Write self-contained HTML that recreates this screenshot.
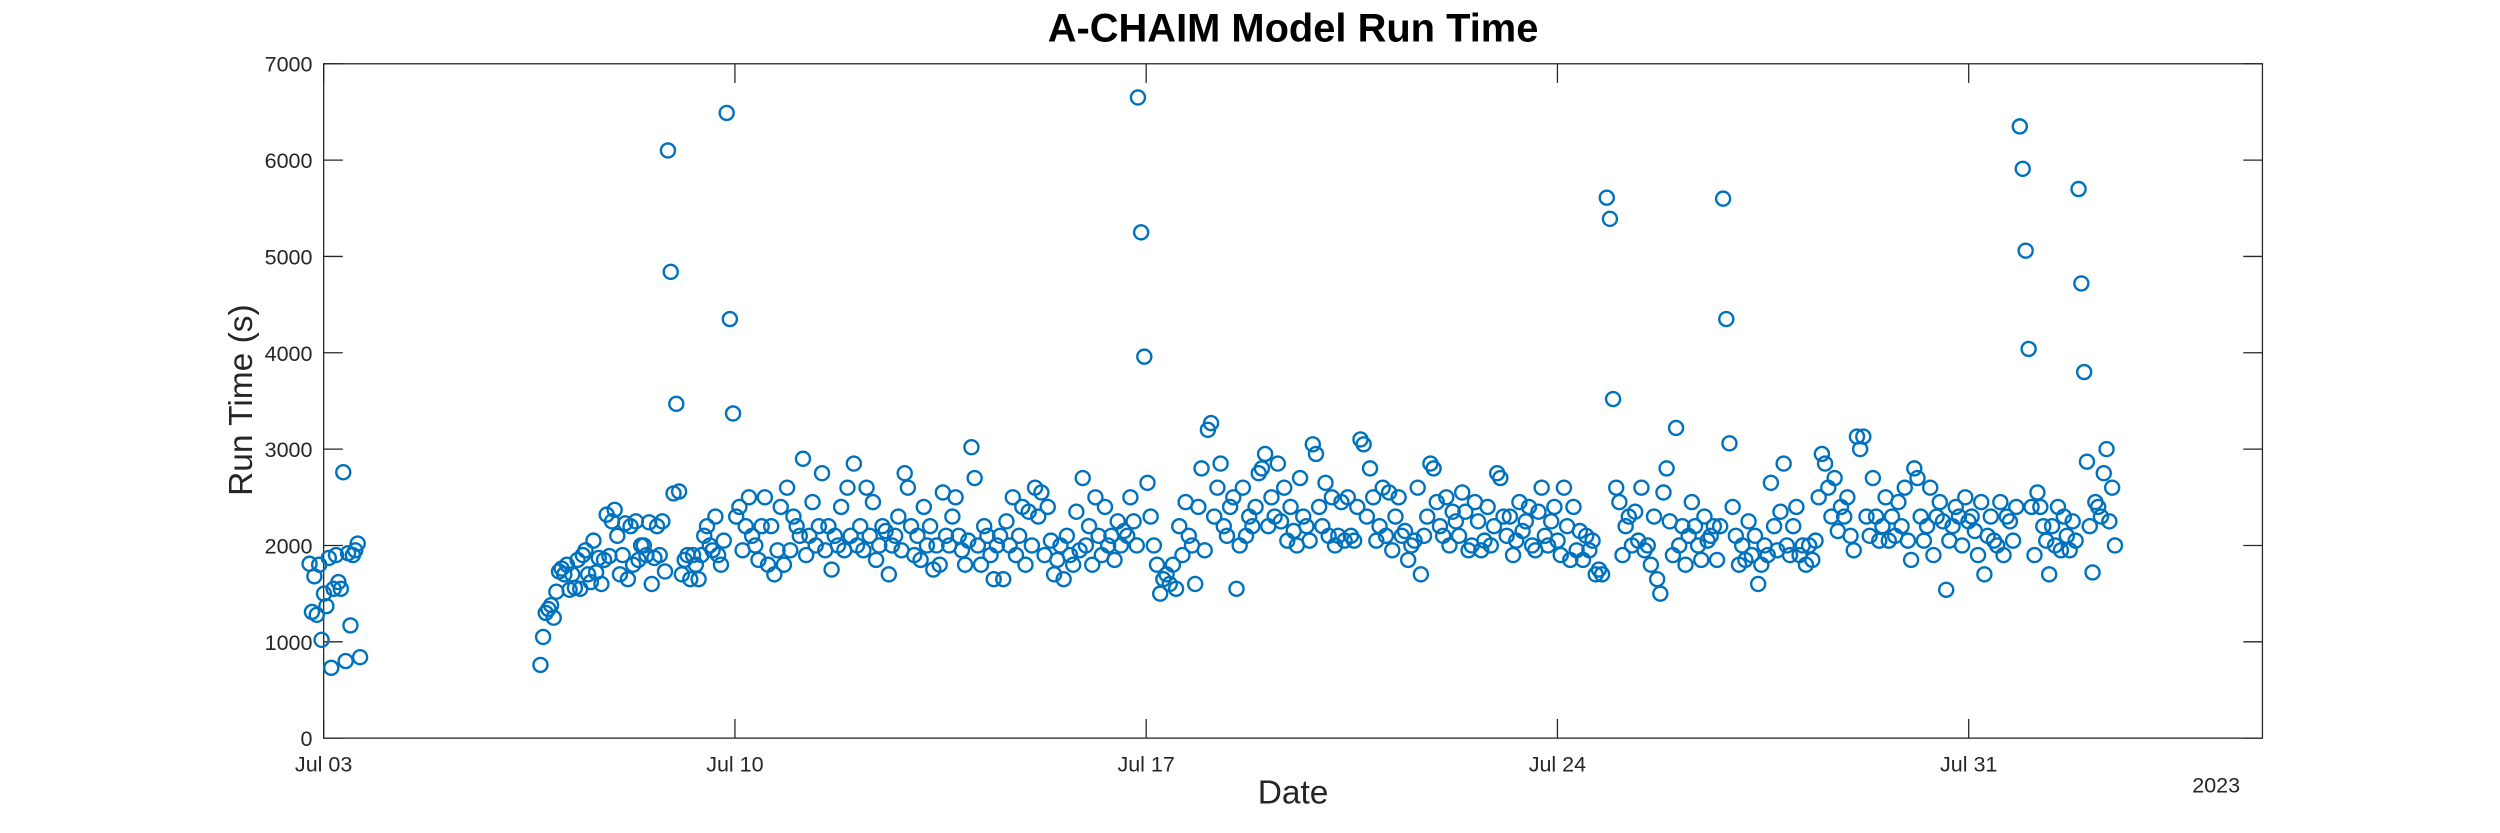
<!DOCTYPE html>
<html><head><meta charset="utf-8">
<style>
html,body{margin:0;padding:0;background:#fff;}
svg{display:block;font-family:"Liberation Sans","DejaVu Sans",sans-serif;}
</style></head>
<body>
<svg id="chart" width="2500" height="833" viewBox="0 0 1568 522.5" preserveAspectRatio="none" xmlns="http://www.w3.org/2000/svg">
<rect width="1568" height="522.5" fill="#fff"/>
<text x="811" y="26" text-anchor="middle" font-size="25" font-weight="bold" fill="#000">A-CHAIM Model Run Time</text>
<rect x="203" y="40" width="1216" height="423" fill="#fff" stroke="#262626" stroke-width="0.8"/>
<g id="axes"></g>
<g id="marks"></g>
<text transform="translate(158,251) rotate(-90)" text-anchor="middle" font-size="21" fill="#262626">Run Time (s)</text>
<text x="811" y="504" text-anchor="middle" font-size="21" fill="#262626">Date</text>
<text x="1390" y="497" text-anchor="middle" font-size="13.5" fill="#262626">2023</text>
</svg>
<script>
// Dates are day offsets from Jul 03 2023 00:00; each run segment spans segStart..segEnd
const yTicks = [0,1000,2000,3000,4000,5000,6000,7000];
const xTickDays = [0,7,14,21,28];
const xTickLabels = ["Jul 03","Jul 10","Jul 17","Jul 24","Jul 31"];
const segStart = [-0.24, 3.69, 5.86, 6.86, 13.86, 21.84, 23.82, 28.87, 29.87];
const segEnd   = [0.62, 5.81, 6.81, 13.84, 21.76, 23.77, 28.81, 29.82, 30.49];
const seg0 = [1810,1310,1680,1280,1800,1020,1500,1370,1870,730,1550,1900,1620,1550,2760,800,1920,1170,1900,1950,2020,840];
const seg1 = [760,1050,1300,1340,1380,1250,1520,1730,1760,1700,1800,1540,1700,1560,1850,1550,1900,1950,1700,1620,2050,1720,1870,1600,1850,2320,1890,2250,2370,2100,1700,1900,2230,1650,2200,1800,2250,1850,2000,2000,1900,2240,1600,1870,2200,1900,2250,1730];
const seg2 = [6100,4840,2540,3470,2560,1700,1850,1900,1650,1900,1800,1650,1900,2100,2200,2000,1950,2300,1900,1800,2050];
const seg3 = [6490,4350,3370,2300,2400,1950,2200,2500,2100,2000,1850,2200,2500,1800,2200,1700,1950,2400,1800,2600,1950,2300,2200,2100,2900,1900,2100,2450,2000,2200,2750,1950,2200,1750,2100,2000,2400,1950,2600,2100,2850,2000,2200,1950,2600,2100,2450,1850,2000,2200,2150,1700,2000,2100,2300,1950,2750,2600,2200,1900,2100,1850,2400,2000,2200,1750,2000,1800,2550,2100,2000,2300,2500,2100,1950,1800,2050,3020,2700,2000,1800,2200,2100,1900,1650,2000,2100,1650,2250,2000,2500,1900,2100,2400,1800,2350,2000,2600,2300,2550,1900,2400,2050,1700,1850,2000,1650,2100,1900,1800,2350,1950,2700,2000,2200,1800,2500,2100,1900,2400,2000,2100,1850,2250,2000,2150,2100,2500,2250,2000];
const seg4 = [6650,5250,3960,2650,2300,2000,1800,1500,1650,1700,1600,1800,1550,2200,1900,2450,2100,2000,1600,2400,2800,1950,3200,3270,2300,2600,2850,2200,2100,2400,2500,1550,2000,2600,2100,2300,2200,2400,2750,2800,2950,2200,2500,2300,2850,2250,2600,2050,2400,2150,2000,2700,2300,2200,2050,3050,2950,2400,2200,2650,2100,2500,2000,2100,2450,2050,2500,2100,2050,2400,3100,3050,2300,2800,2500,2050,2200,2600,2100,2550,1950,2300,2500,2100,2150,1850,2000,2050,2600,1700,2100,2300,2850,2800,2450,2200,2100,2500,2000,2350,2250,2100,2550,2350,1950,2000,2450,2250,1950,2050,2400,2000,2200,2750,2700,2300,2100,2300,1900,2050,2450,2150,2250,2400,2000,1950,2350,2600,2100,2000,2250,2400,2050,1900,2600,2200,1850,2400,1950,2150,1850,2100,1950,2050,1700,1750,1700];
const seg5 = [5610,5390,3520,2600,2450,1900,2200,2300,2000,2350,2050,2600,1950,2000,1800,2300,1650,1500,2550,2800,2250,1900,3220,2000,2200,1800,2100,2450,2200,2000,1850,2300,2050,2100,2200,1850,2200];
const seg6 = [5600,4350,3060,2400,2100,1800,2000,1850,2250,1900,2100,1600,1800,2000,1900,2650,2200,1950,2350,2850,2000,1900,2200,2400,1900,2000,1800,2000,1850,2050,2500,2950,2850,2600,2300,2700,2150,2400,2300,2500,2100,1950,3130,3000,3130,2300,2100,2700,2300,2050,2200,2500,2050,2300,2100,2450,2200,2600,2050,1850,2800,2700,2300,2050,2200,2600,1900,2300,2450,2250,1540,2050,2200,2400,2300,2000,2500,2250,2300,2150,1900,2450,1700,2100,2300,2050,2000,2450,1900,2300,2250,2050,2400];
const seg7 = [6350,5910,5060,4040,2400,1900,2550,2400,2200,2050,1700,2200,2000,2400,1950,2300,2100,1950,2250,2050];
const seg8 = [5700,4720,3800,2870,2200,1720,2450,2400,2300,2750,3000,2250,2600,2000];
const segments = [seg0,seg1,seg2,seg3,seg4,seg5,seg6,seg7,seg8];

const NS="http://www.w3.org/2000/svg";
const L=203,R=1419,T=40,B=463,DMIN=0,DMAX=33,YMAX=7000;
const xs=d=>L+(d-DMIN)/(DMAX-DMIN)*(R-L);
const ys=v=>B-v/YMAX*(B-T);
function mk(tag,attrs,parent){const e=document.createElementNS(NS,tag);for(const k in attrs)e.setAttribute(k,attrs[k]);parent.appendChild(e);return e;}
const axes=document.getElementById('axes');
yTicks.forEach(v=>{
  const y=ys(v);
  const t1=mk('line',{x1:L,x2:L+12,y1:y,y2:y,stroke:'#262626','stroke-width':0.8},axes);
  
  
  const t2=mk('line',{x1:R-12,x2:R,y1:y,y2:y,stroke:'#262626','stroke-width':0.8},axes);
  
  
  const tx=mk('text',{x:L-7,y:y+5,'text-anchor':'end','font-size':13.5,fill:'#262626'},axes);
  tx.textContent=v;
  
  
});
xTickDays.forEach((d,i)=>{
  const x=xs(d);
  const t1=mk('line',{x1:x,x2:x,y1:B,y2:B-12,stroke:'#262626','stroke-width':0.8},axes);
  
  
  const t2=mk('line',{x1:x,x2:x,y1:T,y2:T+12,stroke:'#262626','stroke-width':0.8},axes);
  
  
  const tx=mk('text',{x:x,y:B+21,'text-anchor':'middle','font-size':13.5,fill:'#262626'},axes);
  tx.textContent=xTickLabels[i];
  
  
});
const marks=document.getElementById('marks');
segments.forEach((vals,s)=>{
  const n=vals.length;
  vals.forEach((v,i)=>{
    const d=segStart[s]+(n>1?(segEnd[s]-segStart[s])*i/(n-1):0);
    const c=mk('circle',{cx:xs(d),cy:ys(v),r:4.4,fill:'none',stroke:'#0072BD','stroke-width':1.5},marks);
    
    
  });
});
</script>
</body></html>
